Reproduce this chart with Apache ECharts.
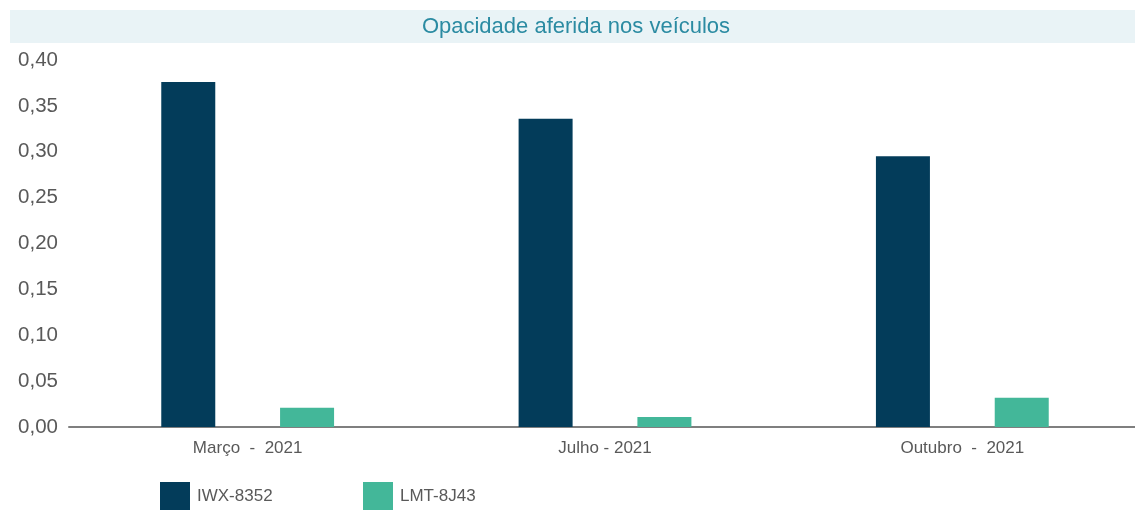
<!DOCTYPE html>
<html>
<head>
<meta charset="utf-8">
<script src="https://cdn.jsdelivr.net/npm/echarts@6/dist/echarts.min.js"></script>
<style>
  html, body { margin: 0; padding: 0; background: #fff; }
  #main { width: 1135px; height: 510px; }
</style>
</head>
<body>
<div id="main"></div>
<script>
var categorias = ['Março  -  2021', 'Julho - 2021', 'Outubro  -  2021'];
var serieIWX = [0.376, 0.336, 0.295];
var serieLMT = [0.021, 0.011, 0.032];
var nomes = ['IWX-8352', 'LMT-8J43'];
var cores = ['#033c5a', '#43b799'];

var fonte = 'Liberation Sans, Arial, sans-serif';
var chart = echarts.init(document.getElementById('main'));

var option = {
  backgroundColor: '#ffffff',
  textStyle: { fontFamily: fonte },
  graphic: [{
    type: 'rect',
    left: 10, top: 10,
    shape: { width: 1125, height: 33 },
    style: { fill: '#e9f3f6' },
    z: -1
  }],
  title: {
    text: 'Opacidade aferida nos veículos',
    left: 576,
    textAlign: 'center',
    top: 16,
    padding: 0,
    textStyle: { color: '#2b8ba2', fontSize: 22, fontWeight: 'normal', fontFamily: fonte }
  },
  legend: [{
    data: [nomes[0]],
    left: 160, top: 482,
    padding: 0,
    itemWidth: 30, itemHeight: 28,
    icon: 'rect',
    textStyle: { color: '#595959', fontSize: 17, fontFamily: fonte, padding: [0, 0, 0, 2] }
  }, {
    data: [nomes[1]],
    left: 363, top: 482,
    padding: 0,
    itemWidth: 30, itemHeight: 28,
    icon: 'rect',
    textStyle: { color: '#595959', fontSize: 17, fontFamily: fonte, padding: [0, 0, 0, 2] }
  }],
  grid: { left: 69, width: 1072, top: 60, bottom: 83, containLabel: false, outerBoundsMode: 'none' },
  xAxis: {
    type: 'category',
    data: categorias,
    axisLine: { show: true, lineStyle: { color: '#7f7f7f', width: 2 } },
    axisTick: { show: false },
    axisLabel: { color: '#595959', fontSize: 17, margin: 13, fontFamily: fonte }
  },
  yAxis: {
    type: 'value',
    min: 0, max: 0.4, interval: 0.05,
    axisLine: { show: false },
    axisTick: { show: false },
    splitLine: { show: false },
    axisLabel: {
      color: '#595959', fontSize: 20.5, margin: 11, fontFamily: fonte,
      formatter: function (v) { return v.toFixed(2).replace('.', ','); }
    }
  },
  series: [{
    name: nomes[0],
    type: 'bar',
    data: serieIWX,
    barWidth: 54,
    barGap: '120%',
    itemStyle: { color: cores[0] }
  }, {
    name: nomes[1],
    type: 'bar',
    data: serieLMT,
    barWidth: 54,
    itemStyle: { color: cores[1] }
  }]
};

chart.setOption(option);
</script>
</body>
</html>
